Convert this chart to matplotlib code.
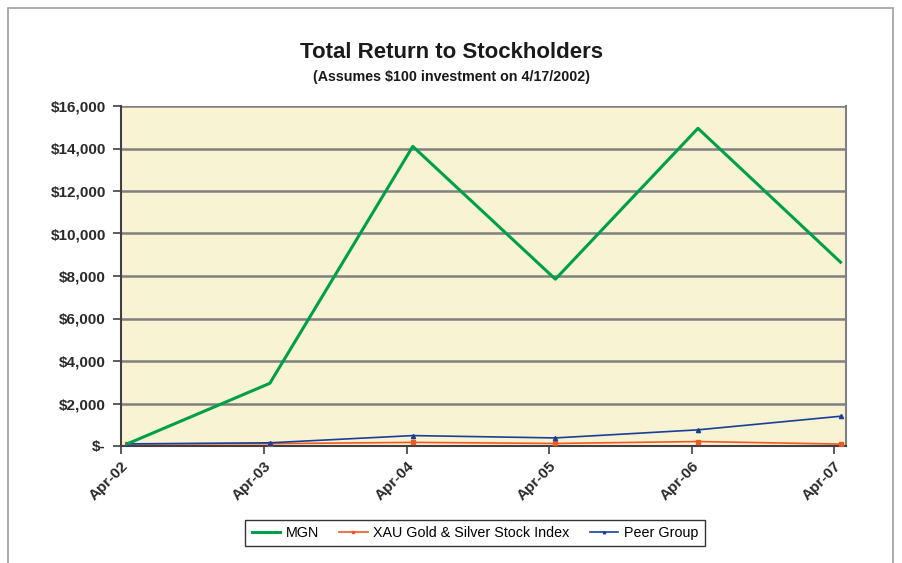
import datetime as dt

import matplotlib
matplotlib.use("Agg")
import matplotlib.dates as mdates
import matplotlib.pyplot as plt
from matplotlib.patches import Rectangle
from matplotlib.ticker import FuncFormatter

plt.rcParams["font.family"] = ["Liberation Sans", "DejaVu Sans"]

# data
dates = [dt.date(y, 4, 17) for y in range(2002, 2008)]
mgn = [100, 2950, 14100, 7850, 14950, 8650]
xau = [100, 110, 170, 120, 210, 90]
peer = [100, 150, 490, 380, 760, 1400]
tick_dates = [dt.date(y, 4, 1) for y in range(2002, 2008)]
tick_labels = ["Apr-02", "Apr-03", "Apr-04", "Apr-05", "Apr-06", "Apr-07"]


def dollars(v, _pos):
    if v == 0:
        return "$-"
    return f"${v:,.0f}"


fig = plt.figure(figsize=(9.03, 5.63), dpi=100)
fig.patch.set_facecolor("white")
fig.patches.append(Rectangle((8 / 903, -0.01), 885 / 903, 1 - 8 / 563 + 0.01,
                             transform=fig.transFigure, fill=False,
                             edgecolor="#a0a0a0", linewidth=1.2))

ax = fig.add_axes([121 / 903, 1 - 446 / 563, 725 / 903, 340 / 563])
ax.set_facecolor("#f8f3d3")

ax.plot(dates, mgn, color="#00a04a", linewidth=2.2, label="MGN", zorder=4)
ax.plot(dates, xau, color="#f05a22", linewidth=1.2, marker="s", markersize=2.5,
        label="XAU Gold & Silver Stock Index", zorder=3)
ax.plot(dates, peer, color="#1a3f9a", linewidth=1.2, marker="^", markersize=3,
        label="Peer Group", zorder=3)

ax.set_ylim(0, 16000)
ax.set_yticks(range(0, 16001, 2000))
ax.yaxis.set_major_formatter(FuncFormatter(dollars))
ax.set_xlim(dt.date(2002, 4, 1), dt.date(2007, 5, 1))
ax.set_xticks([mdates.date2num(d) for d in tick_dates])
ax.set_xticklabels(tick_labels, rotation=45, ha="right", rotation_mode="anchor")

ax.grid(axis="y", color="#808080", linewidth=1.8, zorder=1)
ax.set_axisbelow(True)
for side in ["left", "bottom"]:
    ax.spines[side].set_color("#404040")
    ax.spines[side].set_linewidth(1.5)
ax.spines["right"].set_color("#808080")
ax.spines["right"].set_linewidth(1.5)
ax.spines["top"].set_visible(False)
ax.tick_params(axis="both", length=6, width=1.2, color="#404040",
               labelsize=11, labelcolor="#2a2a2a")
ax.tick_params(axis="y", pad=5)
for lbl in ax.get_xticklabels() + ax.get_yticklabels():
    lbl.set_fontweight("bold")

fig.text(0.5, 1 - 53 / 563, "Total Return to Stockholders", ha="center",
         va="center", fontsize=16, fontweight="bold", color="#1a1a1a")
fig.text(0.5, 1 - 77 / 563, "(Assumes $100 investment on 4/17/2002)",
         ha="center", va="center", fontsize=10.3, fontweight="bold",
         color="#1a1a1a")

leg = fig.legend(loc="center", bbox_to_anchor=(475 / 903, 1 - 533 / 563),
                 ncol=3, frameon=True, fancybox=False, fontsize=10.3,
                 handlelength=2.0, handletextpad=0.4, columnspacing=1.4,
                 borderpad=0.45, markerscale=0.6)
leg.get_frame().set_edgecolor("black")
leg.get_frame().set_linewidth(1.0)

plt.savefig("out.png", dpi=100)
plt.close()
